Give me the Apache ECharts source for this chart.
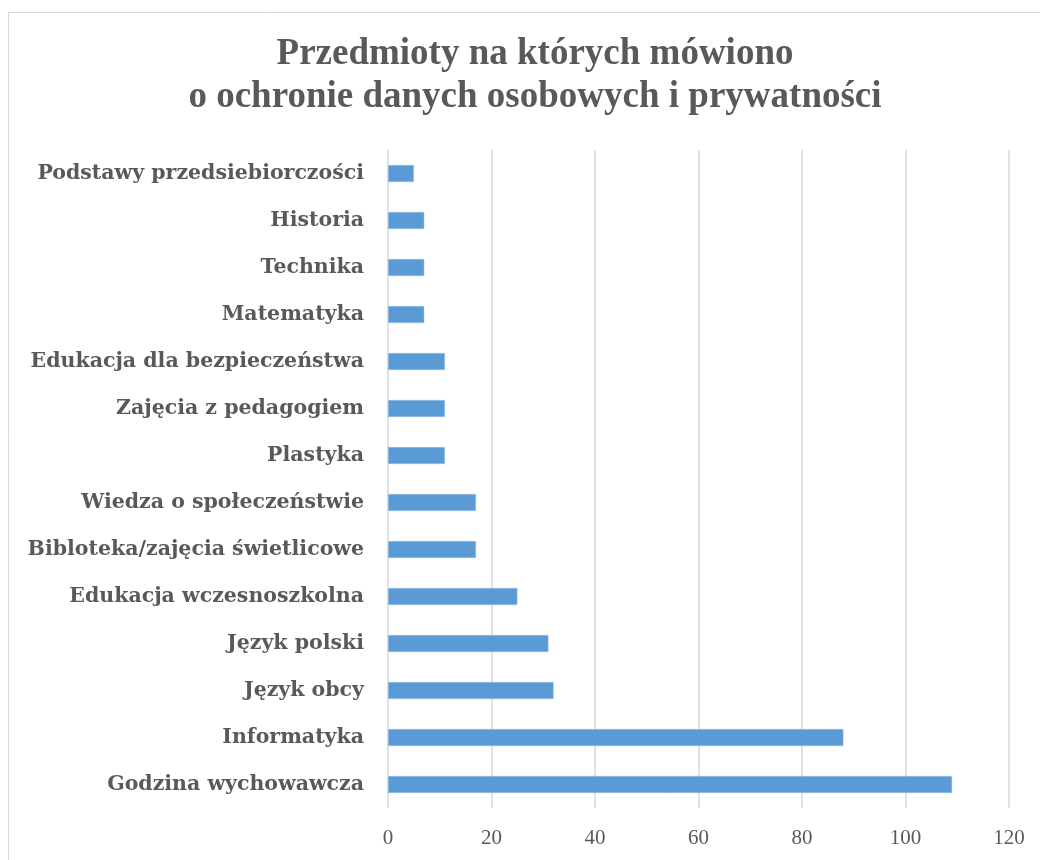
<!DOCTYPE html>
<html>
<head>
<meta charset="utf-8">
<script src="https://cdn.jsdelivr.net/npm/echarts@6/dist/echarts.min.js"></script>
<style>
html,body{margin:0;padding:0;background:#fff;}
#chart{width:1040px;height:860px;}
</style>
</head>
<body>
<div id="chart"></div>
<script>
const titleText = 'Przedmioty na których mówiono\no ochronie danych osobowych i prywatności';
const categories = [
  'Godzina wychowawcza',
  'Informatyka',
  'Język obcy',
  'Język polski',
  'Edukacja wczesnoszkolna',
  'Bibloteka/zajęcia świetlicowe',
  'Wiedza o społeczeństwie',
  'Plastyka',
  'Zajęcia z pedagogiem',
  'Edukacja dla bezpieczeństwa',
  'Matematyka',
  'Technika',
  'Historia',
  'Podstawy przedsiebiorczości'
];
const values = [109, 88, 32, 31, 25, 17, 17, 11, 11, 11, 7, 7, 7, 5];
const xTicks = [0, 20, 40, 60, 80, 100, 120];

const SERIF = '"Liberation Serif", serif';
const WIDE = '"DejaVu Serif", serif';
const chart = echarts.init(document.getElementById('chart'), null, {renderer: 'canvas'});
chart.setOption({
  backgroundColor: '#ffffff',
  animation: false,
  graphic: [{
    type: 'rect',
    shape: {x: 8.5, y: 12.5, width: 1100, height: 900},
    style: {fill: 'none', stroke: '#d9d9d9', lineWidth: 1},
    silent: true,
    z: -10
  }],
  title: {
    text: titleText,
    left: 530,
    top: 28,
    textAlign: 'center',
    textStyle: {
      fontFamily: SERIF,
      fontWeight: 'bold',
      fontSize: 37,
      lineHeight: 43,
      color: '#595959'
    }
  },
  grid: {left: 388, right: 31, top: 150, bottom: 52, containLabel: false},
  xAxis: {
    type: 'value',
    min: xTicks[0],
    max: xTicks[xTicks.length - 1],
    interval: 20,
    axisLine: {show: false},
    axisTick: {show: false},
    splitLine: {show: true, lineStyle: {color: '#d9d9d9', width: 1.5}},
    axisLabel: {
      margin: 20,
      fontFamily: SERIF,
      fontSize: 21,
      color: '#595959'
    }
  },
  yAxis: {
    type: 'category',
    data: categories,
    axisLine: {show: false},
    axisTick: {show: false},
    axisLabel: {
      margin: 24,
      fontFamily: WIDE,
      fontWeight: 'bold',
      fontSize: 20.5,
      color: '#595959'
    }
  },
  series: [{
    type: 'bar',
    data: values,
    barWidth: 17,
    itemStyle: {color: '#5b9bd5', borderColor: '#9dc3e6', borderWidth: 0.5}
  }]
});
</script>
</body>
</html>
